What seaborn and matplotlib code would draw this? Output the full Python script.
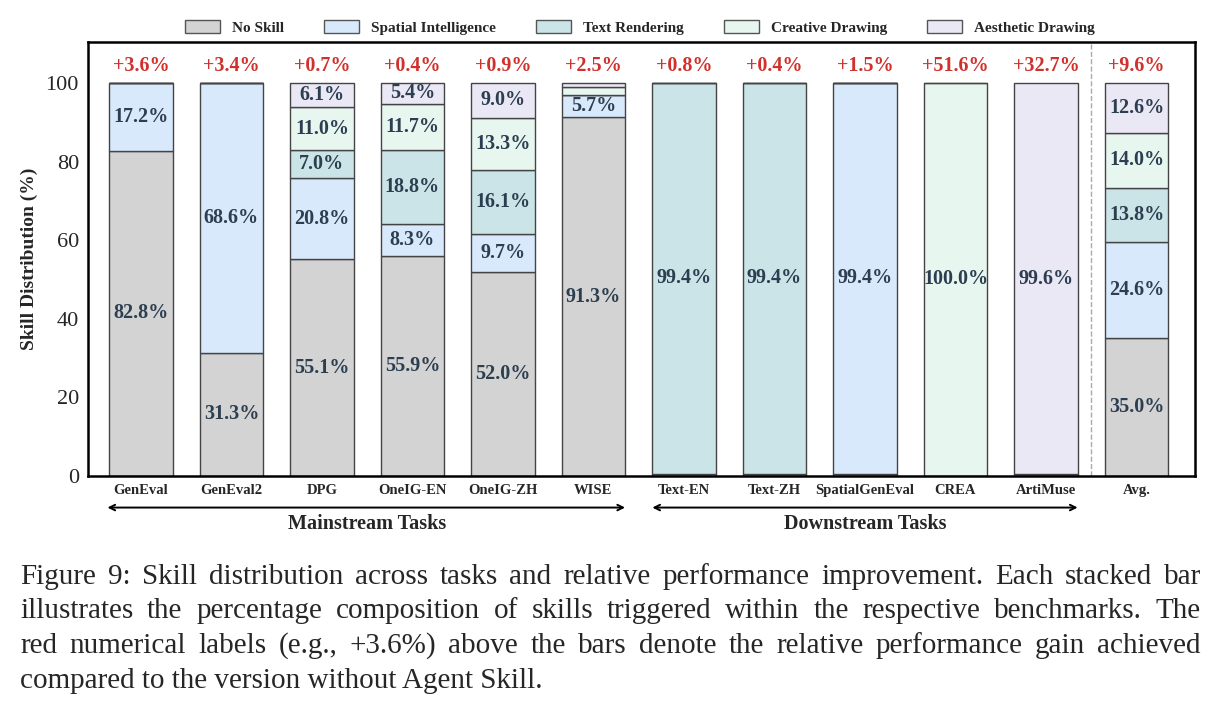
import matplotlib
matplotlib.use("Agg")
import matplotlib.pyplot as plt
import numpy as np
import seaborn as sb
from matplotlib.patches import Patch

# data
tasks = ["GenEval", "GenEval2", "DPG", "OneIG-EN", "OneIG-ZH", "WISE",
         "Text-EN", "Text-ZH", "SpatialGenEval", "CREA", "ArtiMuse", "Avg."]
skills = ["No Skill", "Spatial Intelligence", "Text Rendering",
          "Creative Drawing", "Aesthetic Drawing"]
no_skill = [82.8, 31.3, 55.1, 55.9, 52.0, 91.3, 0.6, 0.6, 0.6, 0.0, 0.4, 35.0]
spatial = [17.2, 68.6, 20.8, 8.3, 9.7, 5.7, 0.0, 0.0, 99.4, 0.0, 0.0, 24.6]
text_render = [0.0, 0.1, 7.0, 18.8, 16.1, 0.0, 99.4, 99.4, 0.0, 0.0, 0.0, 13.8]
creative = [0.0, 0.0, 11.0, 11.7, 13.3, 2.0, 0.0, 0.0, 0.0, 100.0, 0.0, 14.0]
aesthetic = [0.0, 0.0, 6.1, 5.4, 9.0, 1.0, 0.0, 0.0, 0.0, 0.0, 99.6, 12.6]
gains = [3.6, 3.4, 0.7, 0.4, 0.9, 2.5, 0.8, 0.4, 1.5, 51.6, 32.7, 9.6]

colors = ["#d3d3d3", "#d9e9fc", "#cbe4e7", "#e7f7f0", "#ebe8f6"]
series = [no_skill, spatial, text_render, creative, aesthetic]

sb.set_style("white")
plt.rcParams['font.family'] = ['Liberation Serif', 'DejaVu Serif']

fig = plt.figure(figsize=(12.21, 7.04), dpi=100)
ax = fig.add_axes([0.072, 0.324, 0.907, 0.616])

bottom = np.zeros(len(tasks))
for name, vals, col in zip(skills, series, colors):
    vals = np.array(vals)
    sb.barplot(x=tasks, y=vals, bottom=bottom, color=col, width=0.7,
               edgecolor="#444444", linewidth=1.0, saturation=1, ax=ax)
    # percentage labels inside the bigger segments
    for i, v in enumerate(vals):
        if v >= 5:
            ax.text(i, bottom[i] + v / 2, f"{v:.1f}%", ha="center", va="center",
                    fontsize=14.5, fontweight="bold", color="#2c3e50")
    bottom = bottom + vals

# relative gains in red above each bar
for i, g in enumerate(gains):
    ax.text(i, 104.4, f"+{g:.1f}%", ha="center", va="center", fontsize=14.5,
            fontweight="bold", color="#d0312d")

ax.axvline(10.5, color="#aaaaaa", linestyle="--", linewidth=1.0)

ax.set_ylim(0, 110.4)
ax.set_xlim(-0.585, 11.65)
ax.set_yticks([0, 20, 40, 60, 80, 100])
ax.tick_params(axis="y", labelsize=16, length=3, width=1)
ax.tick_params(axis="x", labelsize=10.5, length=3, width=1, pad=3)
for lab in ax.get_xticklabels():
    lab.set_fontweight("bold")
ax.set_ylabel("Skill Distribution (%)", fontsize=14, fontweight="bold")
ax.yaxis.set_label_coords(-0.045, 0.5)
for sp in ax.spines.values():
    sp.set_linewidth(1.8)
    sp.set_color("black")

# group arrows under the tick labels
for x0, x1, xc, lab in [(-0.40, 5.38, 2.5, "Mainstream Tasks"),
                         (5.62, 10.38, 8.0, "Downstream Tasks")]:
    ax.annotate("", xy=(x1, -0.073), xytext=(x0, -0.073),
                xycoords=("data", "axes fraction"),
                arrowprops=dict(arrowstyle="<->", lw=1.4, color="black"),
                annotation_clip=False)
    ax.text(xc, -0.11, lab, transform=ax.get_xaxis_transform(), ha="center",
            va="center", fontsize=14.5, fontweight="bold")

handles = [Patch(facecolor=c, edgecolor="#555555", linewidth=1.0) for c in colors]
fig.legend(handles, skills, loc="center", bbox_to_anchor=(0.524, 0.961), ncol=5,
           frameon=False, prop={"weight": "bold", "size": 11}, handlelength=2.3,
           handleheight=0.9, columnspacing=2.6, handletextpad=0.8)

# caption, justified like in the paper
caption = [
    "Figure 9: Skill distribution across tasks and relative performance improvement. Each stacked bar",
    "illustrates the percentage composition of skills triggered within the respective benchmarks.  The",
    "red numerical labels (e.g., +3.6%) above the bars denote the relative performance gain achieved",
    "compared to the version without Agent Skill.",
]
W = fig.get_figwidth() * fig.dpi
H = fig.get_figheight() * fig.dpi
x_left, x_right = 20, 1201
renderer = fig.canvas.get_renderer()
for k, line in enumerate(caption):
    y = 1 - (577 + k * 34.5) / H
    if k == len(caption) - 1:
        fig.text(x_left / W, y, line, fontsize=21, va="center", ha="left")
        continue
    words = line.split()
    texts = [fig.text(0, y, w, fontsize=21, va="center", ha="left") for w in words]
    widths = [t.get_window_extent(renderer).width for t in texts]
    gap = (x_right - x_left - sum(widths)) / (len(words) - 1)
    x = x_left
    for t, w in zip(texts, widths):
        t.set_x(x / W)
        x += w + gap

fig.savefig("out.png", dpi=100)
